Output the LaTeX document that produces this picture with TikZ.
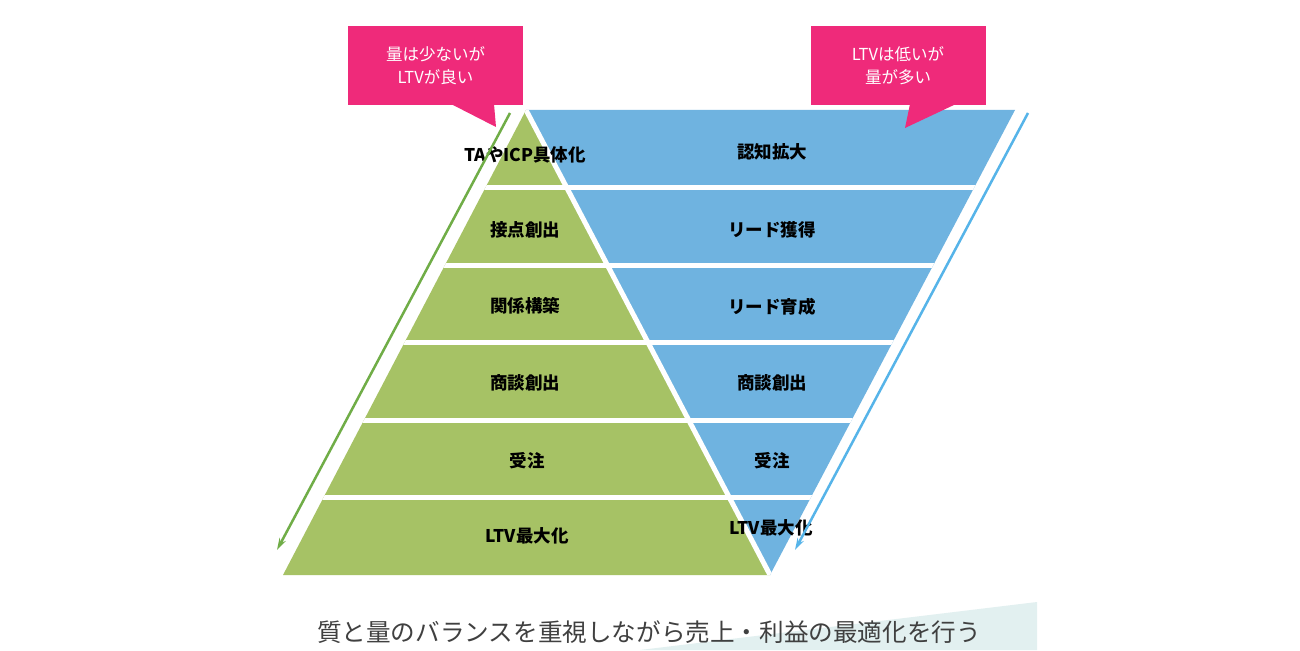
\documentclass[tikz,border=0pt]{standalone}
\usepackage{fontspec}
\setmainfont{Noto Sans CJK JP}
\usetikzlibrary{arrows.meta,calc}
\definecolor{gfill}{RGB}{166,194,101}
\definecolor{bfill}{RGB}{111,179,224}
\definecolor{garr}{RGB}{112,173,71}
\definecolor{barr}{RGB}{86,180,233}
\definecolor{pinkc}{RGB}{239,42,122}
\definecolor{tealw}{RGB}{226,240,240}
\definecolor{txtgray}{RGB}{64,64,64}
\tikzset{
  lbl/.style={font=\fontsize{17.5}{20}\selectfont\bfseries, text=black, inner sep=0pt},
  callout/.style={fill=pinkc, text=white, minimum width=175pt, minimum height=79pt, inner sep=0pt, align=center, font=\fontsize{16.5}{23}\selectfont},
  sep/.style={white, line width=5pt},
  garrow/.style={garr, line width=2.5pt, -{Stealth[length=12pt,width=7pt]}},
  barrow/.style={barr, line width=2.5pt, -{Stealth[length=12pt,width=7pt]}},
}
\begin{document}
\begin{tikzpicture}[x=1pt,y=-1pt]
\useasboundingbox (0,0) rectangle (1300,650);
\fill[white] (0,0) rectangle (1300,650);
% teal wedge
\fill[tealw] (640,650) -- (1037,602) -- (1037,650) -- cycle;
% shapes
\coordinate (A) at (526,110);
\coordinate (BL) at (283,575);
\coordinate (BR) at (770,575);
\coordinate (TR) at (1015,110);
\fill[gfill] (A) -- (BL) -- (BR) -- cycle;
\fill[bfill] (A) -- (TR) -- (BR) -- cycle;
\begin{scope}
  \clip (A) -- (TR) -- (BR) -- (BL) -- cycle;
  \foreach \y in {187.5,265,342.5,420,497.5} {
    \draw[sep] (200,\y) -- (1100,\y);
  }
  \draw[sep] (A) -- (BR);
\end{scope}
% labels green
\node[lbl] (g1) at (525,155) {TAやICP具体化};
\node[lbl] (g2) at (525,230) {接点創出};
\node[lbl] (g3) at (525,306) {関係構築};
\node[lbl] (g4) at (525,383) {商談創出};
\node[lbl] (g5) at (527,461) {受注};
\node[lbl] (g6) at (527,536) {LTV最大化};
% labels blue
\node[lbl] (b1) at (772,152) {認知拡大};
\node[lbl] (b2) at (772,230) {リード獲得};
\node[lbl] (b3) at (772,307) {リード育成};
\node[lbl] (b4) at (772,383) {商談創出};
\node[lbl] (b5) at (772,461) {受注};
\node[lbl] (b6) at (771,528) {LTV最大化};
% arrows
\coordinate (ga1) at (510,113);
\coordinate (ga2) at (277,550);
\coordinate (ba1) at (1028,113);
\coordinate (ba2) at (795,550);
\draw[garrow] (ga1) -- (ga2);
\draw[barrow] (ba1) -- (ba2);
% callouts
\node[callout] (c1) at (435.5,65.5) {量は少ないが\\LTVが良い};
\fill[pinkc] (451,104) -- (494,104) -- (496,127) -- cycle;
\node[callout] (c2) at (898,65.5) {LTVは低いが\\量が多い};
\fill[pinkc] (910,104) -- (956,104) -- (905,128) -- cycle;
% bottom text
\node[text=txtgray, font=\fontsize{24.6}{30}\selectfont, inner sep=0pt] (bt) at (649,632) {質と量のバランスを重視しながら売上・利益の最適化を行う};
\end{tikzpicture}
\end{document}
